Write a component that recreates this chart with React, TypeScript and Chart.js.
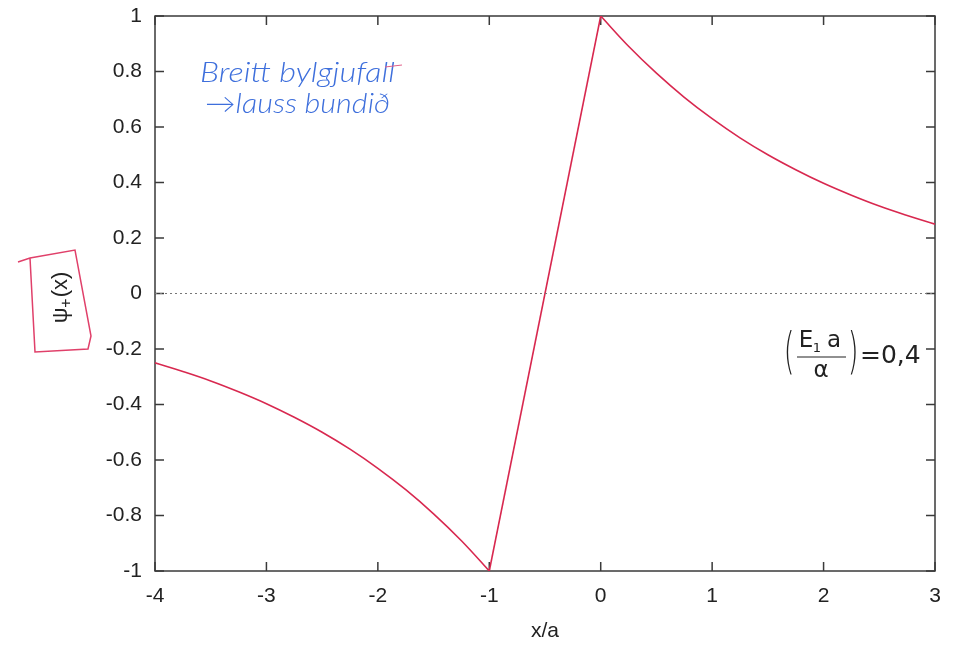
import React, { useEffect, useRef } from "react";
import { Chart, registerables } from "chart.js";
Chart.register(...registerables);

const leftX = [-4, -3.75, -3.5, -3.25, -3, -2.75, -2.5, -2.25, -2, -1.75, -1.5, -1.25, -1];
const leftY = [-0.25, -0.281, -0.315, -0.354, -0.397, -0.446, -0.5, -0.561, -0.63, -0.707, -0.794, -0.891, -1];
const midX = [-1, 0];
const midY = [-1, 1];
const rightX = [0, 0.25, 0.5, 0.75, 1, 1.25, 1.5, 1.75, 2, 2.25, 2.5, 2.75, 3];
const rightY = [1, 0.891, 0.794, 0.707, 0.63, 0.561, 0.5, 0.446, 0.397, 0.354, 0.315, 0.281, 0.25];
const zeroX = [-4, 3];
const zeroY = [0, 0];
const xTicks = [-4, -3, -2, -1, 0, 1, 2, 3];
const yTicks = [-1, -0.8, -0.6, -0.4, -0.2, 0, 0.2, 0.4, 0.6, 0.8, 1];

const CURVE = "#d8284f";
const FONT = "Liberation Sans";
const pts = (xs: number[], ys: number[]) => xs.map((x, i) => ({ x, y: ys[i] }));

const framePlugin = {
  id: "frame",
  beforeDatasetsDraw(chart: any) {
    const { ctx, chartArea: a, scales } = chart;
    ctx.save();
    ctx.strokeStyle = "#3a3a3a";
    ctx.lineWidth = 1.5;
    ctx.strokeRect(a.left, a.top, a.right - a.left, a.bottom - a.top);
    ctx.beginPath();
    const L = 9;
    xTicks.forEach((v) => {
      const px = scales.x.getPixelForValue(v);
      ctx.moveTo(px, a.bottom);
      ctx.lineTo(px, a.bottom - L);
      ctx.moveTo(px, a.top);
      ctx.lineTo(px, a.top + L);
    });
    yTicks.forEach((v) => {
      const py = scales.y.getPixelForValue(v);
      ctx.moveTo(a.left, py);
      ctx.lineTo(a.left + L, py);
      ctx.moveTo(a.right, py);
      ctx.lineTo(a.right - L, py);
    });
    ctx.stroke();
    ctx.restore();
  },
  afterDraw(chart: any) {
    const { ctx } = chart;
    ctx.save();
    // blue handwritten note
    ctx.fillStyle = "#3e6fdc";
    ctx.textBaseline = "middle";
    ctx.textAlign = "left";
    ctx.font = "italic 300 27px Lato";
    const fit = (t: string, x: number, y: number, w: number) => {
      const m = ctx.measureText(t).width;
      ctx.save();
      ctx.translate(x, y);
      ctx.scale(w / m, 1);
      ctx.fillText(t, 0, 0);
      ctx.restore();
    };
    fit("Breitt bylgjufall", 200, 73, 195);
    fit("\u2192lauss bundi\u00f0", 205, 104, 185);
    ctx.strokeStyle = "#e0608a";
    ctx.lineWidth = 1;
    ctx.beginPath();
    ctx.moveTo(385, 67);
    ctx.lineTo(402, 65);
    ctx.stroke();

    // pink y-label box
    ctx.strokeStyle = "#e0406a";
    ctx.lineWidth = 1.5;
    ctx.beginPath();
    ctx.moveTo(18, 262);
    ctx.lineTo(30, 258);
    ctx.lineTo(75, 250);
    ctx.lineTo(91, 336);
    ctx.lineTo(88, 349);
    ctx.lineTo(35, 352);
    ctx.lineTo(30, 258);
    ctx.stroke();
    ctx.fillStyle = "#222";
    ctx.translate(61, 298);
    ctx.rotate(-Math.PI / 2);
    ctx.font = `22px '${FONT}'`;
    const ps = "\u03c8";
    const rest = "(x)";
    const w1 = ctx.measureText(ps).width;
    const w3 = ctx.measureText(rest).width;
    ctx.font = `16px '${FONT}'`;
    const w2 = ctx.measureText("+").width;
    const sx = -(w1 + w2 + w3) / 2;
    ctx.textAlign = "left";
    ctx.font = `22px '${FONT}'`;
    ctx.fillText(ps, sx, 0);
    ctx.font = `16px '${FONT}'`;
    ctx.fillText("+", sx + w1, 6);
    ctx.font = `22px '${FONT}'`;
    ctx.fillText(rest, sx + w1 + w2 + 1, 0);
    ctx.restore();

    // black handwritten formula
    ctx.save();
    ctx.fillStyle = "#222";
    ctx.strokeStyle = "#222";
    ctx.lineWidth = 1.2;
    ctx.textBaseline = "middle";
    ctx.textAlign = "center";
    ctx.font = "300 50px 'DejaVu Sans'";
    ctx.save();
    ctx.translate(789, 355);
    ctx.scale(0.55, 1);
    ctx.fillText("(", 0, 0);
    ctx.restore();
    ctx.save();
    ctx.translate(853, 355);
    ctx.scale(0.55, 1);
    ctx.fillText(")", 0, 0);
    ctx.restore();
    ctx.font = "23px 'DejaVu Sans'";
    ctx.fillText("E", 806, 341);
    ctx.font = "13px 'DejaVu Sans'";
    ctx.fillText("1", 817, 349);
    ctx.font = "23px 'DejaVu Sans'";
    ctx.fillText("a", 834, 341);
    ctx.beginPath();
    ctx.moveTo(797, 357);
    ctx.lineTo(846, 357);
    ctx.stroke();
    ctx.fillText("\u03b1", 821, 371);
    ctx.font = "25px 'DejaVu Sans'";
    ctx.textAlign = "left";
    ctx.fillText("=0,4", 860, 356);
    ctx.restore();
  },
};

export default function App() {
  const ref = useRef<HTMLCanvasElement>(null);
  useEffect(() => {
    if (!ref.current) return;
    const lineDs = (data: any[]) => ({
      data,
      showLine: true,
      borderColor: CURVE,
      borderWidth: 1.6,
      pointRadius: 0,
      tension: 0.4,
      fill: false,
    });
    const chart = new Chart(ref.current, {
      type: "scatter",
      data: {
        datasets: [
          {
            data: pts(zeroX, zeroY),
            showLine: true,
            borderColor: "#777",
            borderWidth: 1,
            borderDash: [2, 3],
            pointRadius: 0,
          },
          lineDs(pts(leftX, leftY)),
          { ...lineDs(pts(midX, midY)), tension: 0 },
          lineDs(pts(rightX, rightY)),
        ],
      },
      options: {
        animation: false,
        responsive: false,
        events: [],
        layout: { padding: { top: 16, right: 31, left: 0, bottom: 0 } },
        plugins: { legend: { display: false }, tooltip: { enabled: false } },
        scales: {
          x: {
            type: "linear",
            min: -4,
            max: 3,
            afterBuildTicks: (s: any) => {
              s.ticks = xTicks.map((v) => ({ value: v }));
            },
            afterFit: (s: any) => {
              s.height = 82;
              s.paddingLeft = 0;
              s.paddingRight = 0;
            },
            grid: { display: false, drawTicks: false },
            border: { display: false },
            ticks: {
              padding: 13,
              color: "#222",
              font: { family: FONT, size: 21 },
              maxRotation: 0,
              callback: (v: any) => String(v),
            },
            title: {
              display: true,
              text: "x/a",
              color: "#222",
              font: { family: FONT, size: 21 },
              padding: { top: 10, bottom: 9 },
            },
          },
          y: {
            type: "linear",
            min: -1,
            max: 1,
            afterBuildTicks: (s: any) => {
              s.ticks = yTicks.map((v) => ({ value: v }));
            },
            afterFit: (s: any) => {
              s.width = 155;
              s.paddingTop = 0;
              s.paddingBottom = 0;
            },
            grid: { display: false, drawTicks: false },
            border: { display: false },
            ticks: {
              padding: 13,
              color: "#222",
              font: { family: FONT, size: 21 },
              callback: (v: any) => String(Number(Number(v).toFixed(1))),
            },
          },
        },
      },
      plugins: [framePlugin],
    } as any);
    return () => chart.destroy();
  }, []);
  return (
    <div style={{ position: "fixed", left: 0, top: 0, width: 966, height: 653, background: "#fff" }}>
      <canvas ref={ref} width={966} height={653} style={{ width: 966, height: 653, display: "block" }} />
    </div>
  );
}
